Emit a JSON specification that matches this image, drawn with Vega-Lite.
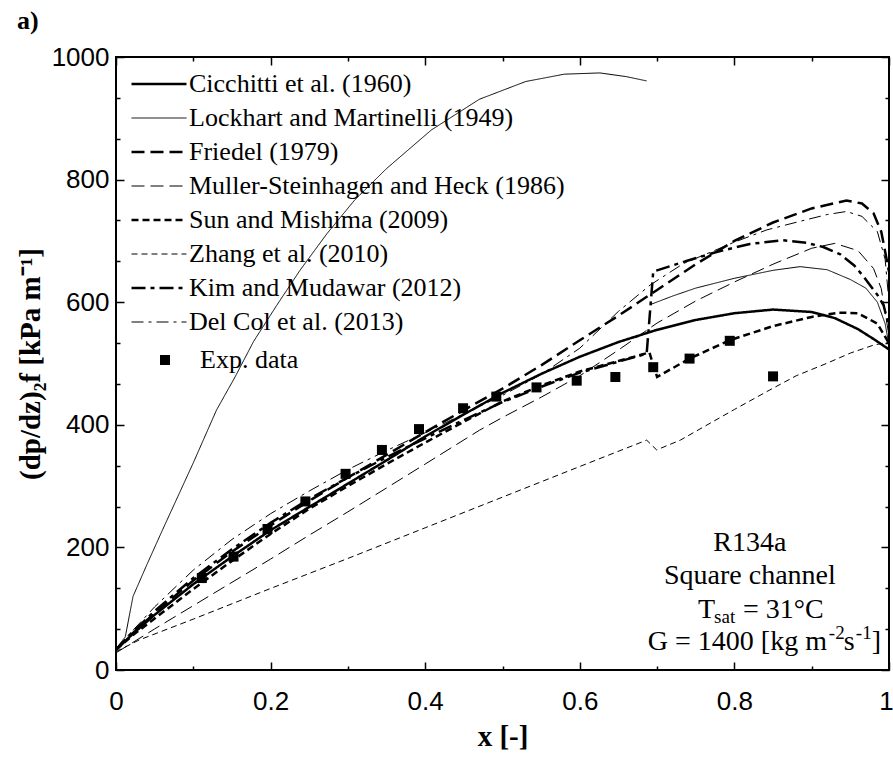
{
  "$schema": "https://vega.github.io/schema/vega-lite/v6.json",
  "width": 773,
  "height": 613,
  "autosize": {"type": "none"},
  "padding": {"left": 116, "top": 57, "right": 4, "bottom": 90},
  "background": "white",
  "title": {"text": "a)", "anchor": "start", "frame": "group", "dx": -99, "offset": -11, "baseline": "alphabetic", "font": "Liberation Serif", "fontSize": 26, "fontWeight": "bold", "color": "black"},
  "config": {
    "view": {"stroke": "black", "strokeWidth": 2},
    "legend": {"labelFont": "Liberation Serif", "labelFontSize": 26, "labelColor": "black", "labelLimit": 600, "padding": 0, "titlePadding": 0}
  },
  "datasets": {
    "curves": [
      {"model": "Cicchitti et al. (1960)", "seg": 1, "x": 0, "y": 33},
      {"model": "Cicchitti et al. (1960)", "seg": 1, "x": 0.02, "y": 57},
      {"model": "Cicchitti et al. (1960)", "seg": 1, "x": 0.05, "y": 90},
      {"model": "Cicchitti et al. (1960)", "seg": 1, "x": 0.1, "y": 140},
      {"model": "Cicchitti et al. (1960)", "seg": 1, "x": 0.15, "y": 185},
      {"model": "Cicchitti et al. (1960)", "seg": 1, "x": 0.2, "y": 228},
      {"model": "Cicchitti et al. (1960)", "seg": 1, "x": 0.25, "y": 266},
      {"model": "Cicchitti et al. (1960)", "seg": 1, "x": 0.3, "y": 304},
      {"model": "Cicchitti et al. (1960)", "seg": 1, "x": 0.35, "y": 342},
      {"model": "Cicchitti et al. (1960)", "seg": 1, "x": 0.4, "y": 381},
      {"model": "Cicchitti et al. (1960)", "seg": 1, "x": 0.45, "y": 417},
      {"model": "Cicchitti et al. (1960)", "seg": 1, "x": 0.5, "y": 452},
      {"model": "Cicchitti et al. (1960)", "seg": 1, "x": 0.55, "y": 483},
      {"model": "Cicchitti et al. (1960)", "seg": 1, "x": 0.6, "y": 511},
      {"model": "Cicchitti et al. (1960)", "seg": 1, "x": 0.65, "y": 535},
      {"model": "Cicchitti et al. (1960)", "seg": 1, "x": 0.7, "y": 555},
      {"model": "Cicchitti et al. (1960)", "seg": 1, "x": 0.75, "y": 571},
      {"model": "Cicchitti et al. (1960)", "seg": 1, "x": 0.8, "y": 582},
      {"model": "Cicchitti et al. (1960)", "seg": 1, "x": 0.85, "y": 588},
      {"model": "Cicchitti et al. (1960)", "seg": 1, "x": 0.9, "y": 584},
      {"model": "Cicchitti et al. (1960)", "seg": 1, "x": 0.93, "y": 574},
      {"model": "Cicchitti et al. (1960)", "seg": 1, "x": 0.96, "y": 556},
      {"model": "Cicchitti et al. (1960)", "seg": 1, "x": 0.98, "y": 540},
      {"model": "Cicchitti et al. (1960)", "seg": 1, "x": 1.0, "y": 523},

      {"model": "Lockhart and Martinelli (1949)", "seg": 1, "x": 0, "y": 35},
      {"model": "Lockhart and Martinelli (1949)", "seg": 1, "x": 0.012, "y": 54},
      {"model": "Lockhart and Martinelli (1949)", "seg": 1, "x": 0.022, "y": 120},
      {"model": "Lockhart and Martinelli (1949)", "seg": 1, "x": 0.04, "y": 172},
      {"model": "Lockhart and Martinelli (1949)", "seg": 1, "x": 0.06, "y": 228},
      {"model": "Lockhart and Martinelli (1949)", "seg": 1, "x": 0.08, "y": 283},
      {"model": "Lockhart and Martinelli (1949)", "seg": 1, "x": 0.1, "y": 338},
      {"model": "Lockhart and Martinelli (1949)", "seg": 1, "x": 0.13, "y": 424},
      {"model": "Lockhart and Martinelli (1949)", "seg": 1, "x": 0.154, "y": 478},
      {"model": "Lockhart and Martinelli (1949)", "seg": 1, "x": 0.178, "y": 536},
      {"model": "Lockhart and Martinelli (1949)", "seg": 1, "x": 0.208, "y": 595},
      {"model": "Lockhart and Martinelli (1949)", "seg": 1, "x": 0.238, "y": 652},
      {"model": "Lockhart and Martinelli (1949)", "seg": 1, "x": 0.273, "y": 712},
      {"model": "Lockhart and Martinelli (1949)", "seg": 1, "x": 0.309, "y": 767},
      {"model": "Lockhart and Martinelli (1949)", "seg": 1, "x": 0.35, "y": 818},
      {"model": "Lockhart and Martinelli (1949)", "seg": 1, "x": 0.408, "y": 881},
      {"model": "Lockhart and Martinelli (1949)", "seg": 1, "x": 0.47, "y": 931},
      {"model": "Lockhart and Martinelli (1949)", "seg": 1, "x": 0.53, "y": 960},
      {"model": "Lockhart and Martinelli (1949)", "seg": 1, "x": 0.58, "y": 972},
      {"model": "Lockhart and Martinelli (1949)", "seg": 1, "x": 0.626, "y": 974},
      {"model": "Lockhart and Martinelli (1949)", "seg": 1, "x": 0.66, "y": 968},
      {"model": "Lockhart and Martinelli (1949)", "seg": 1, "x": 0.6865, "y": 961},
      {"model": "Lockhart and Martinelli (1949)", "seg": 2, "x": 0.691, "y": 596},
      {"model": "Lockhart and Martinelli (1949)", "seg": 2, "x": 0.72, "y": 610},
      {"model": "Lockhart and Martinelli (1949)", "seg": 2, "x": 0.75, "y": 623},
      {"model": "Lockhart and Martinelli (1949)", "seg": 2, "x": 0.8, "y": 639},
      {"model": "Lockhart and Martinelli (1949)", "seg": 2, "x": 0.85, "y": 652},
      {"model": "Lockhart and Martinelli (1949)", "seg": 2, "x": 0.885, "y": 658},
      {"model": "Lockhart and Martinelli (1949)", "seg": 2, "x": 0.92, "y": 653},
      {"model": "Lockhart and Martinelli (1949)", "seg": 2, "x": 0.95, "y": 637},
      {"model": "Lockhart and Martinelli (1949)", "seg": 2, "x": 0.97, "y": 623},
      {"model": "Lockhart and Martinelli (1949)", "seg": 2, "x": 0.985, "y": 600},
      {"model": "Lockhart and Martinelli (1949)", "seg": 2, "x": 0.995, "y": 565},
      {"model": "Lockhart and Martinelli (1949)", "seg": 2, "x": 1.0, "y": 530},

      {"model": "Friedel (1979)", "seg": 1, "x": 0, "y": 33},
      {"model": "Friedel (1979)", "seg": 1, "x": 0.02, "y": 58},
      {"model": "Friedel (1979)", "seg": 1, "x": 0.05, "y": 93},
      {"model": "Friedel (1979)", "seg": 1, "x": 0.1, "y": 146},
      {"model": "Friedel (1979)", "seg": 1, "x": 0.15, "y": 193},
      {"model": "Friedel (1979)", "seg": 1, "x": 0.2, "y": 236},
      {"model": "Friedel (1979)", "seg": 1, "x": 0.25, "y": 276},
      {"model": "Friedel (1979)", "seg": 1, "x": 0.3, "y": 314},
      {"model": "Friedel (1979)", "seg": 1, "x": 0.35, "y": 351},
      {"model": "Friedel (1979)", "seg": 1, "x": 0.4, "y": 388},
      {"model": "Friedel (1979)", "seg": 1, "x": 0.45, "y": 424},
      {"model": "Friedel (1979)", "seg": 1, "x": 0.5, "y": 459},
      {"model": "Friedel (1979)", "seg": 1, "x": 0.55, "y": 497},
      {"model": "Friedel (1979)", "seg": 1, "x": 0.6, "y": 538},
      {"model": "Friedel (1979)", "seg": 1, "x": 0.65, "y": 578},
      {"model": "Friedel (1979)", "seg": 1, "x": 0.7, "y": 620},
      {"model": "Friedel (1979)", "seg": 1, "x": 0.75, "y": 662},
      {"model": "Friedel (1979)", "seg": 1, "x": 0.8, "y": 700},
      {"model": "Friedel (1979)", "seg": 1, "x": 0.85, "y": 730},
      {"model": "Friedel (1979)", "seg": 1, "x": 0.9, "y": 753},
      {"model": "Friedel (1979)", "seg": 1, "x": 0.945, "y": 766},
      {"model": "Friedel (1979)", "seg": 1, "x": 0.965, "y": 761},
      {"model": "Friedel (1979)", "seg": 1, "x": 0.98, "y": 745},
      {"model": "Friedel (1979)", "seg": 1, "x": 0.99, "y": 715},
      {"model": "Friedel (1979)", "seg": 1, "x": 1.0, "y": 650},

      {"model": "Muller-Steinhagen and Heck (1986)", "seg": 1, "x": 0, "y": 28},
      {"model": "Muller-Steinhagen and Heck (1986)", "seg": 1, "x": 0.027, "y": 49},
      {"model": "Muller-Steinhagen and Heck (1986)", "seg": 1, "x": 0.05, "y": 67},
      {"model": "Muller-Steinhagen and Heck (1986)", "seg": 1, "x": 0.1, "y": 105},
      {"model": "Muller-Steinhagen and Heck (1986)", "seg": 1, "x": 0.15, "y": 143},
      {"model": "Muller-Steinhagen and Heck (1986)", "seg": 1, "x": 0.2, "y": 181},
      {"model": "Muller-Steinhagen and Heck (1986)", "seg": 1, "x": 0.25, "y": 220},
      {"model": "Muller-Steinhagen and Heck (1986)", "seg": 1, "x": 0.3, "y": 258},
      {"model": "Muller-Steinhagen and Heck (1986)", "seg": 1, "x": 0.35, "y": 297},
      {"model": "Muller-Steinhagen and Heck (1986)", "seg": 1, "x": 0.4, "y": 336},
      {"model": "Muller-Steinhagen and Heck (1986)", "seg": 1, "x": 0.47, "y": 391},
      {"model": "Muller-Steinhagen and Heck (1986)", "seg": 1, "x": 0.5, "y": 412},
      {"model": "Muller-Steinhagen and Heck (1986)", "seg": 1, "x": 0.55, "y": 445},
      {"model": "Muller-Steinhagen and Heck (1986)", "seg": 1, "x": 0.6, "y": 480},
      {"model": "Muller-Steinhagen and Heck (1986)", "seg": 1, "x": 0.65, "y": 522},
      {"model": "Muller-Steinhagen and Heck (1986)", "seg": 1, "x": 0.7, "y": 566},
      {"model": "Muller-Steinhagen and Heck (1986)", "seg": 1, "x": 0.75, "y": 602},
      {"model": "Muller-Steinhagen and Heck (1986)", "seg": 1, "x": 0.8, "y": 633},
      {"model": "Muller-Steinhagen and Heck (1986)", "seg": 1, "x": 0.85, "y": 662},
      {"model": "Muller-Steinhagen and Heck (1986)", "seg": 1, "x": 0.9, "y": 688},
      {"model": "Muller-Steinhagen and Heck (1986)", "seg": 1, "x": 0.93, "y": 696},
      {"model": "Muller-Steinhagen and Heck (1986)", "seg": 1, "x": 0.96, "y": 684},
      {"model": "Muller-Steinhagen and Heck (1986)", "seg": 1, "x": 0.98, "y": 655},
      {"model": "Muller-Steinhagen and Heck (1986)", "seg": 1, "x": 0.99, "y": 622},
      {"model": "Muller-Steinhagen and Heck (1986)", "seg": 1, "x": 1.0, "y": 545},

      {"model": "Sun and Mishima (2009)", "seg": 1, "x": 0, "y": 33},
      {"model": "Sun and Mishima (2009)", "seg": 1, "x": 0.02, "y": 55},
      {"model": "Sun and Mishima (2009)", "seg": 1, "x": 0.05, "y": 84},
      {"model": "Sun and Mishima (2009)", "seg": 1, "x": 0.1, "y": 132},
      {"model": "Sun and Mishima (2009)", "seg": 1, "x": 0.15, "y": 178},
      {"model": "Sun and Mishima (2009)", "seg": 1, "x": 0.2, "y": 222},
      {"model": "Sun and Mishima (2009)", "seg": 1, "x": 0.25, "y": 263},
      {"model": "Sun and Mishima (2009)", "seg": 1, "x": 0.3, "y": 300},
      {"model": "Sun and Mishima (2009)", "seg": 1, "x": 0.35, "y": 336},
      {"model": "Sun and Mishima (2009)", "seg": 1, "x": 0.4, "y": 371},
      {"model": "Sun and Mishima (2009)", "seg": 1, "x": 0.45, "y": 405},
      {"model": "Sun and Mishima (2009)", "seg": 1, "x": 0.5, "y": 438},
      {"model": "Sun and Mishima (2009)", "seg": 1, "x": 0.55, "y": 464},
      {"model": "Sun and Mishima (2009)", "seg": 1, "x": 0.6, "y": 487},
      {"model": "Sun and Mishima (2009)", "seg": 1, "x": 0.65, "y": 504},
      {"model": "Sun and Mishima (2009)", "seg": 1, "x": 0.69, "y": 518},
      {"model": "Sun and Mishima (2009)", "seg": 1, "x": 0.7, "y": 478},
      {"model": "Sun and Mishima (2009)", "seg": 1, "x": 0.742, "y": 508},
      {"model": "Sun and Mishima (2009)", "seg": 1, "x": 0.794, "y": 538},
      {"model": "Sun and Mishima (2009)", "seg": 1, "x": 0.85, "y": 561},
      {"model": "Sun and Mishima (2009)", "seg": 1, "x": 0.9, "y": 576},
      {"model": "Sun and Mishima (2009)", "seg": 1, "x": 0.935, "y": 583},
      {"model": "Sun and Mishima (2009)", "seg": 1, "x": 0.96, "y": 582},
      {"model": "Sun and Mishima (2009)", "seg": 1, "x": 0.985, "y": 565},
      {"model": "Sun and Mishima (2009)", "seg": 1, "x": 1.0, "y": 533},

      {"model": "Zhang et al. (2010)", "seg": 1, "x": 0, "y": 30},
      {"model": "Zhang et al. (2010)", "seg": 1, "x": 0.03, "y": 49},
      {"model": "Zhang et al. (2010)", "seg": 1, "x": 0.1, "y": 83},
      {"model": "Zhang et al. (2010)", "seg": 1, "x": 0.2, "y": 133},
      {"model": "Zhang et al. (2010)", "seg": 1, "x": 0.3, "y": 182},
      {"model": "Zhang et al. (2010)", "seg": 1, "x": 0.4, "y": 232},
      {"model": "Zhang et al. (2010)", "seg": 1, "x": 0.5, "y": 282},
      {"model": "Zhang et al. (2010)", "seg": 1, "x": 0.6, "y": 332},
      {"model": "Zhang et al. (2010)", "seg": 1, "x": 0.6865, "y": 375},
      {"model": "Zhang et al. (2010)", "seg": 1, "x": 0.6994, "y": 359},
      {"model": "Zhang et al. (2010)", "seg": 1, "x": 0.73, "y": 375},
      {"model": "Zhang et al. (2010)", "seg": 1, "x": 0.8, "y": 425},
      {"model": "Zhang et al. (2010)", "seg": 1, "x": 0.846, "y": 457},
      {"model": "Zhang et al. (2010)", "seg": 1, "x": 0.88, "y": 480},
      {"model": "Zhang et al. (2010)", "seg": 1, "x": 0.919, "y": 500},
      {"model": "Zhang et al. (2010)", "seg": 1, "x": 0.95, "y": 517},
      {"model": "Zhang et al. (2010)", "seg": 1, "x": 0.98, "y": 530},
      {"model": "Zhang et al. (2010)", "seg": 1, "x": 1.0, "y": 535},

      {"model": "Kim and Mudawar (2012)", "seg": 1, "x": 0, "y": 33},
      {"model": "Kim and Mudawar (2012)", "seg": 1, "x": 0.02, "y": 60},
      {"model": "Kim and Mudawar (2012)", "seg": 1, "x": 0.05, "y": 96},
      {"model": "Kim and Mudawar (2012)", "seg": 1, "x": 0.1, "y": 150},
      {"model": "Kim and Mudawar (2012)", "seg": 1, "x": 0.15, "y": 197},
      {"model": "Kim and Mudawar (2012)", "seg": 1, "x": 0.2, "y": 240},
      {"model": "Kim and Mudawar (2012)", "seg": 1, "x": 0.25, "y": 279},
      {"model": "Kim and Mudawar (2012)", "seg": 1, "x": 0.3, "y": 314},
      {"model": "Kim and Mudawar (2012)", "seg": 1, "x": 0.35, "y": 347},
      {"model": "Kim and Mudawar (2012)", "seg": 1, "x": 0.4, "y": 378},
      {"model": "Kim and Mudawar (2012)", "seg": 1, "x": 0.45, "y": 408},
      {"model": "Kim and Mudawar (2012)", "seg": 1, "x": 0.5, "y": 437},
      {"model": "Kim and Mudawar (2012)", "seg": 1, "x": 0.55, "y": 462},
      {"model": "Kim and Mudawar (2012)", "seg": 1, "x": 0.6, "y": 485},
      {"model": "Kim and Mudawar (2012)", "seg": 1, "x": 0.65, "y": 503},
      {"model": "Kim and Mudawar (2012)", "seg": 1, "x": 0.6865, "y": 516},
      {"model": "Kim and Mudawar (2012)", "seg": 1, "x": 0.695, "y": 650},
      {"model": "Kim and Mudawar (2012)", "seg": 1, "x": 0.74, "y": 668},
      {"model": "Kim and Mudawar (2012)", "seg": 1, "x": 0.777, "y": 682},
      {"model": "Kim and Mudawar (2012)", "seg": 1, "x": 0.82, "y": 695},
      {"model": "Kim and Mudawar (2012)", "seg": 1, "x": 0.863, "y": 701},
      {"model": "Kim and Mudawar (2012)", "seg": 1, "x": 0.893, "y": 697},
      {"model": "Kim and Mudawar (2012)", "seg": 1, "x": 0.915, "y": 690},
      {"model": "Kim and Mudawar (2012)", "seg": 1, "x": 0.937, "y": 678},
      {"model": "Kim and Mudawar (2012)", "seg": 1, "x": 0.955, "y": 660},
      {"model": "Kim and Mudawar (2012)", "seg": 1, "x": 0.967, "y": 642},
      {"model": "Kim and Mudawar (2012)", "seg": 1, "x": 0.985, "y": 612},
      {"model": "Kim and Mudawar (2012)", "seg": 1, "x": 0.993, "y": 595},
      {"model": "Kim and Mudawar (2012)", "seg": 1, "x": 1.0, "y": 560},

      {"model": "Del Col et al. (2013)", "seg": 1, "x": 0, "y": 35},
      {"model": "Del Col et al. (2013)", "seg": 1, "x": 0.02, "y": 62},
      {"model": "Del Col et al. (2013)", "seg": 1, "x": 0.05, "y": 103},
      {"model": "Del Col et al. (2013)", "seg": 1, "x": 0.1, "y": 163},
      {"model": "Del Col et al. (2013)", "seg": 1, "x": 0.15, "y": 213},
      {"model": "Del Col et al. (2013)", "seg": 1, "x": 0.2, "y": 255},
      {"model": "Del Col et al. (2013)", "seg": 1, "x": 0.25, "y": 292},
      {"model": "Del Col et al. (2013)", "seg": 1, "x": 0.3, "y": 327},
      {"model": "Del Col et al. (2013)", "seg": 1, "x": 0.35, "y": 358},
      {"model": "Del Col et al. (2013)", "seg": 1, "x": 0.4, "y": 387},
      {"model": "Del Col et al. (2013)", "seg": 1, "x": 0.45, "y": 418},
      {"model": "Del Col et al. (2013)", "seg": 1, "x": 0.5, "y": 448},
      {"model": "Del Col et al. (2013)", "seg": 1, "x": 0.55, "y": 482},
      {"model": "Del Col et al. (2013)", "seg": 1, "x": 0.6, "y": 525},
      {"model": "Del Col et al. (2013)", "seg": 1, "x": 0.65, "y": 585},
      {"model": "Del Col et al. (2013)", "seg": 1, "x": 0.691, "y": 628},
      {"model": "Del Col et al. (2013)", "seg": 1, "x": 0.734, "y": 663},
      {"model": "Del Col et al. (2013)", "seg": 1, "x": 0.8, "y": 698},
      {"model": "Del Col et al. (2013)", "seg": 1, "x": 0.842, "y": 718},
      {"model": "Del Col et al. (2013)", "seg": 1, "x": 0.885, "y": 732},
      {"model": "Del Col et al. (2013)", "seg": 1, "x": 0.92, "y": 743},
      {"model": "Del Col et al. (2013)", "seg": 1, "x": 0.945, "y": 748},
      {"model": "Del Col et al. (2013)", "seg": 1, "x": 0.965, "y": 740},
      {"model": "Del Col et al. (2013)", "seg": 1, "x": 0.985, "y": 715},
      {"model": "Del Col et al. (2013)", "seg": 1, "x": 0.995, "y": 670},
      {"model": "Del Col et al. (2013)", "seg": 1, "x": 1.0, "y": 600}
    ],
    "exp": [
      {"kind": "Exp. data", "x": 0.111, "y": 150},
      {"kind": "Exp. data", "x": 0.152, "y": 185},
      {"kind": "Exp. data", "x": 0.196, "y": 230},
      {"kind": "Exp. data", "x": 0.245, "y": 275},
      {"kind": "Exp. data", "x": 0.297, "y": 320},
      {"kind": "Exp. data", "x": 0.344, "y": 359},
      {"kind": "Exp. data", "x": 0.392, "y": 393},
      {"kind": "Exp. data", "x": 0.449, "y": 427},
      {"kind": "Exp. data", "x": 0.492, "y": 446},
      {"kind": "Exp. data", "x": 0.544, "y": 461},
      {"kind": "Exp. data", "x": 0.596, "y": 472},
      {"kind": "Exp. data", "x": 0.646, "y": 478},
      {"kind": "Exp. data", "x": 0.695, "y": 494},
      {"kind": "Exp. data", "x": 0.742, "y": 508},
      {"kind": "Exp. data", "x": 0.794, "y": 537},
      {"kind": "Exp. data", "x": 0.85, "y": 479}
    ]
  },
  "resolve": {"axis": {"x": "independent", "y": "independent"}},
  "layer": [
    {
      "data": {"name": "curves"},
      "mark": {"type": "line", "color": "black", "strokeCap": "butt", "clip": true},
      "encoding": {
        "x": {"field": "x", "type": "quantitative", "scale": {"domain": [0, 1], "nice": false, "zero": false},
          "axis": {"orient": "bottom", "values": [0, 0.2, 0.4, 0.6, 0.8, 1], "labelExpr": "datum.value == 0 || datum.value == 1 ? format(datum.value, 'd') : format(datum.value, '.1f')", "ticks": false, "domain": false, "grid": false, "labelFont": "Liberation Sans", "labelFontSize": 26, "labelColor": "black", "labelPadding": 18, "labelFlush": false,
            "labelOffset": {"condition": {"test": "datum.value == 1", "value": -3}, "value": 0},
            "title": "x [-]", "titleFont": "Liberation Serif", "titleFontSize": 29, "titleFontWeight": "bold", "titleColor": "black", "titlePadding": 8}},
        "y": {"field": "y", "type": "quantitative", "scale": {"domain": [0, 1000], "nice": false},
          "axis": {"orient": "left", "values": [0, 200, 400, 600, 800, 1000], "format": "d", "ticks": false, "domain": false, "grid": false, "labelFont": "Liberation Sans", "labelFontSize": 26, "labelColor": "black", "labelPadding": 7, "labelFlush": false, "title": "(dp/dz)₂f [kPa m⁻¹]", "titleFont": "Liberation Serif", "titleFontSize": 29, "titleFontWeight": "bold", "titleColor": "black", "titlePadding": 6, "titleY": 306.5, "titleAlign": "center", "titleAngle": 270}},
        "strokeDash": {"field": "model", "type": "nominal",
          "scale": {"domain": ["Cicchitti et al. (1960)", "Lockhart and Martinelli (1949)", "Friedel (1979)", "Muller-Steinhagen and Heck (1986)", "Sun and Mishima (2009)", "Zhang et al. (2010)", "Kim and Mudawar (2012)", "Del Col et al. (2013)"],
            "range": [[1, 0], [1, 0], [13, 6], [13, 6], [7, 4], [6, 4], [14, 5, 4, 5], [12, 5, 3, 5]]},
          "legend": {"orient": "top-left", "offset": 14, "title": null, "padding": 0, "symbolType": "stroke", "symbolSize": 3025, "clipHeight": 26, "rowPadding": 8, "symbolStrokeColor": "black", "labelFont": "Liberation Serif", "labelFontSize": 26, "labelColor": "black", "labelOffset": 1, "labelLimit": 600}},
        "strokeWidth": {"field": "model", "type": "nominal",
          "scale": {"type": "ordinal", "domain": ["Cicchitti et al. (1960)", "Lockhart and Martinelli (1949)", "Friedel (1979)", "Muller-Steinhagen and Heck (1986)", "Sun and Mishima (2009)", "Zhang et al. (2010)", "Kim and Mudawar (2012)", "Del Col et al. (2013)"],
            "range": [2.5, 1, 2.5, 1, 2.5, 1, 2.5, 1]},
          "legend": {"orient": "top-left", "offset": 14, "title": null, "padding": 0, "symbolType": "stroke", "symbolSize": 3025, "clipHeight": 26, "rowPadding": 8, "symbolStrokeColor": "black", "labelFont": "Liberation Serif", "labelFontSize": 26, "labelColor": "black", "labelOffset": 1, "labelLimit": 600}},
        "detail": {"field": "seg", "type": "nominal"}
      }
    },
    {
      "data": {"name": "exp"},
      "mark": {"type": "point", "filled": true, "size": 100, "color": "black", "opacity": 1},
      "encoding": {
        "x": {"field": "x", "type": "quantitative",
          "axis": {"orient": "top", "values": [0, 0.1, 0.2, 0.3, 0.4, 0.5, 0.6, 0.7, 0.8, 0.9, 1], "labels": false, "domain": false, "grid": false, "title": null, "tickColor": "black", "tickWidth": 1.5,
            "tickSize": {"condition": {"test": "abs(datum.value * 5 - round(datum.value * 5)) < 0.001", "value": -8}, "value": -4}}},
        "y": {"field": "y", "type": "quantitative",
          "axis": {"orient": "right", "values": [0, 66.667, 133.333, 200, 266.667, 333.333, 400, 466.667, 533.333, 600, 666.667, 733.333, 800, 866.667, 933.333, 1000], "labels": false, "domain": false, "grid": false, "title": null, "tickColor": "black", "tickWidth": 1.5,
            "tickSize": {"condition": {"test": "abs(datum.value / 200 - round(datum.value / 200)) < 0.001", "value": -8}, "value": -4}}},
        "shape": {"field": "kind", "type": "nominal", "scale": {"range": ["square"]},
          "legend": {"orient": "none", "legendX": 15, "legendY": 290, "title": null, "padding": 0, "symbolType": "square", "symbolSize": 100, "symbolFillColor": "black", "symbolStrokeWidth": 0, "symbolOffset": 21, "labelFont": "Liberation Serif", "labelFontSize": 26, "labelColor": "black", "labelOffset": 22}}
      }
    },
    {
      "data": {"name": "exp"},
      "mark": {"type": "point", "opacity": 0},
      "encoding": {
        "x": {"field": "x", "type": "quantitative",
          "axis": {"orient": "bottom", "values": [0, 0.1, 0.2, 0.3, 0.4, 0.5, 0.6, 0.7, 0.8, 0.9, 1], "labels": false, "domain": false, "grid": false, "title": null, "tickColor": "black", "tickWidth": 1.5,
            "tickSize": {"condition": {"test": "abs(datum.value * 5 - round(datum.value * 5)) < 0.001", "value": -8}, "value": -4}}},
        "y": {"field": "y", "type": "quantitative",
          "axis": {"orient": "left", "values": [0, 66.667, 133.333, 200, 266.667, 333.333, 400, 466.667, 533.333, 600, 666.667, 733.333, 800, 866.667, 933.333, 1000], "labels": false, "domain": false, "grid": false, "title": null, "tickColor": "black", "tickWidth": 1.5,
            "tickSize": {"condition": {"test": "abs(datum.value / 200 - round(datum.value / 200)) < 0.001", "value": -8}, "value": -4}}}
      }
    },
    {
      "data": {"values": [{"t": "R134a"}]},
      "mark": {"type": "text", "align": "center", "baseline": "alphabetic", "font": "Liberation Serif", "fontSize": 28, "color": "black"},
      "encoding": {"text": {"field": "t"}, "x": {"datum": 0.82, "type": "quantitative", "axis": null}, "y": {"datum": 194, "type": "quantitative", "axis": null}}
    },
    {
      "data": {"values": [{"t": "Square channel"}]},
      "mark": {"type": "text", "align": "center", "baseline": "alphabetic", "font": "Liberation Serif", "fontSize": 28, "color": "black"},
      "encoding": {"text": {"field": "t"}, "x": {"datum": 0.82, "type": "quantitative", "axis": null}, "y": {"datum": 141, "type": "quantitative", "axis": null}}
    },
    {
      "data": {"values": [{"t": "T"}]},
      "mark": {"type": "text", "align": "left", "baseline": "alphabetic", "font": "Liberation Serif", "fontSize": 28, "color": "black"},
      "encoding": {"text": {"field": "t"}, "x": {"datum": 0.753, "type": "quantitative", "axis": null}, "y": {"datum": 85, "type": "quantitative", "axis": null}}
    },
    {
      "data": {"values": [{"t": "sat"}]},
      "mark": {"type": "text", "align": "left", "baseline": "alphabetic", "font": "Liberation Serif", "fontSize": 19, "color": "black", "dx": 16, "dy": 5},
      "encoding": {"text": {"field": "t"}, "x": {"datum": 0.753, "type": "quantitative", "axis": null}, "y": {"datum": 85, "type": "quantitative", "axis": null}}
    },
    {
      "data": {"values": [{"t": "= 31°C"}]},
      "mark": {"type": "text", "align": "left", "baseline": "alphabetic", "font": "Liberation Serif", "fontSize": 28, "color": "black", "dx": 45},
      "encoding": {"text": {"field": "t"}, "x": {"datum": 0.753, "type": "quantitative", "axis": null}, "y": {"datum": 85, "type": "quantitative", "axis": null}}
    },
    {
      "data": {"values": [{"t": "G = 1400 [kg m"}]},
      "mark": {"type": "text", "align": "left", "baseline": "alphabetic", "font": "Liberation Serif", "fontSize": 28, "color": "black"},
      "encoding": {"text": {"field": "t"}, "x": {"datum": 0.688, "type": "quantitative", "axis": null}, "y": {"datum": 33, "type": "quantitative", "axis": null}}
    },
    {
      "data": {"values": [{"t": "-2"}]},
      "mark": {"type": "text", "align": "left", "baseline": "alphabetic", "font": "Liberation Serif", "fontSize": 19, "color": "black", "dx": 181, "dy": -11},
      "encoding": {"text": {"field": "t"}, "x": {"datum": 0.688, "type": "quantitative", "axis": null}, "y": {"datum": 33, "type": "quantitative", "axis": null}}
    },
    {
      "data": {"values": [{"t": "s"}]},
      "mark": {"type": "text", "align": "left", "baseline": "alphabetic", "font": "Liberation Serif", "fontSize": 28, "color": "black", "dx": 196},
      "encoding": {"text": {"field": "t"}, "x": {"datum": 0.688, "type": "quantitative", "axis": null}, "y": {"datum": 33, "type": "quantitative", "axis": null}}
    },
    {
      "data": {"values": [{"t": "-1"}]},
      "mark": {"type": "text", "align": "left", "baseline": "alphabetic", "font": "Liberation Serif", "fontSize": 19, "color": "black", "dx": 208, "dy": -11},
      "encoding": {"text": {"field": "t"}, "x": {"datum": 0.688, "type": "quantitative", "axis": null}, "y": {"datum": 33, "type": "quantitative", "axis": null}}
    },
    {
      "data": {"values": [{"t": "]"}]},
      "mark": {"type": "text", "align": "left", "baseline": "alphabetic", "font": "Liberation Serif", "fontSize": 28, "color": "black", "dx": 224},
      "encoding": {"text": {"field": "t"}, "x": {"datum": 0.688, "type": "quantitative", "axis": null}, "y": {"datum": 33, "type": "quantitative", "axis": null}}
    }
  ]
}
